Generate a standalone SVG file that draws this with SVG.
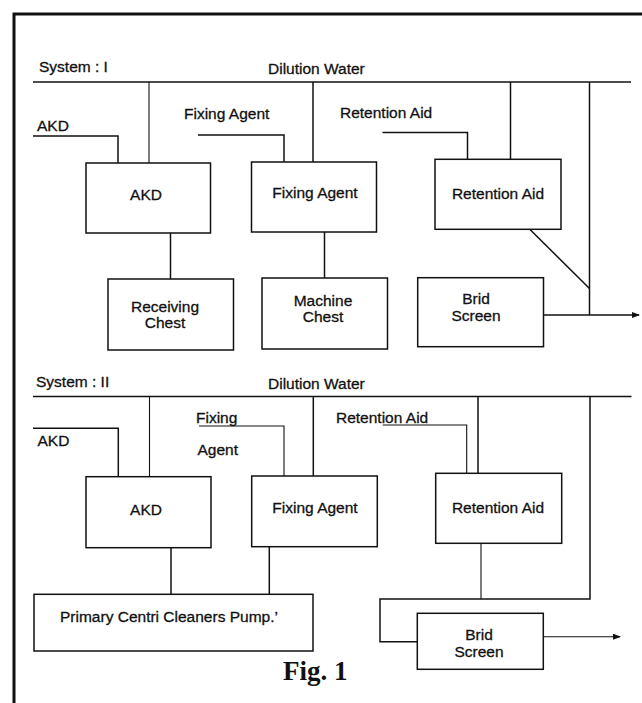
<svg xmlns="http://www.w3.org/2000/svg" width="642" height="703" viewBox="0 0 642 703">
<style>
.box{fill:#fff;stroke:#111;stroke-width:1.5}
.ln{fill:none;stroke:#111;stroke-width:1.5}
.thin{fill:none;stroke:#111;stroke-width:1.1}
text{font-family:"Liberation Sans",Arial,sans-serif;font-size:15.5px;fill:#111;stroke:#111;stroke-width:0.3}
.c{text-anchor:middle}
.fig{font-family:"Liberation Serif","Times New Roman",serif;font-size:27px;font-weight:bold;stroke:none}
</style>
<defs>
<marker id="arr" markerWidth="8" markerHeight="6" refX="7" refY="3" orient="auto" markerUnits="userSpaceOnUse">
<path d="M0,0 L8,3 L0,6 Z" fill="#111"/>
</marker>
</defs>
<rect width="642" height="703" fill="#fff"/>
<path d="M14,703 V14 H642" fill="none" stroke="#111" stroke-width="3"/>

<!-- System I -->
<text x="39" y="72">System : I</text>
<text x="268" y="74">Dilution Water</text>
<text x="37" y="131">AKD</text>
<text x="184" y="119">Fixing Agent</text>
<text x="340" y="118">Retention Aid</text>

<g id="connectors1">
<path class="ln" d="M33,82 H631"/>
<path class="thin" d="M149,82 V163"/>
<path class="ln" d="M313,82 V162"/>
<path class="ln" d="M510.5,82 V159"/>
<path class="ln" d="M589.5,82 V315"/>
<path class="ln" d="M33,136 H118 V163"/>
<path class="ln" d="M198,135 H284 V162"/>
<path class="ln" d="M382.5,132.5 H467.5 V159"/>
<path class="ln" d="M170.5,233 V279"/>
<path class="ln" d="M324.5,232 V278"/>
<path class="ln" d="M529.5,229 L589.5,288.5"/>
<path class="ln" d="M543.5,315 H639" marker-end="url(#arr)"/>
</g>

<g id="akd1"><rect class="box" x="86" y="163" width="124.5" height="70"/><text class="c" x="146" y="200">AKD</text></g>
<g id="fixing1"><rect class="box" x="251.5" y="162" width="125" height="70"/><text class="c" x="315" y="198">Fixing Agent</text></g>
<g id="retention1"><rect class="box" x="435" y="159.3" width="126" height="70"/><text class="c" x="498" y="199">Retention Aid</text></g>
<g id="receiving1"><rect class="box" x="108" y="279" width="125.5" height="71"/><text class="c" x="165" y="312">Receiving</text><text class="c" x="165" y="328">Chest</text></g>
<g id="machine1"><rect class="box" x="262" y="278" width="125.5" height="71"/><text class="c" x="323" y="306">Machine</text><text class="c" x="323" y="322">Chest</text></g>
<g id="brid1"><rect class="box" x="417.7" y="277.7" width="125.8" height="69"/><text class="c" x="476" y="304">Brid</text><text class="c" x="476" y="321">Screen</text></g>

<!-- System II -->
<text x="36" y="387">System : II</text>
<text x="268" y="389">Dilution Water</text>
<text x="37.5" y="446">AKD</text>
<text x="196" y="423">Fixing</text>
<text x="197.5" y="455">Agent</text>
<text x="336" y="423">Retention Aid</text>

<g id="connectors2">
<path class="ln" d="M33,396.5 H631.5"/>
<path class="thin" d="M149.5,396.5 V476.7"/>
<path class="ln" d="M313.3,396.5 V476"/>
<path class="ln" d="M478,396.5 V473.3"/>
<path class="ln" d="M590,396.5 V599 H380 V641.7 H417.3"/>
<path class="ln" d="M33,428.3 H118.3 V476.7"/>
<path class="thin" d="M199,426 H284 V476"/>
<path class="thin" d="M382.7,425 H466.7 V473.3"/>
<path class="ln" d="M171,547.7 V594.3"/>
<path class="ln" d="M269.3,546.7 V594.3"/>
<path class="thin" d="M481,543.3 V599"/>
<path class="thin" d="M543.3,636.7 H620" marker-end="url(#arr)"/>
</g>

<g id="akd2"><rect class="box" x="86" y="476.7" width="125" height="71"/><text class="c" x="146" y="515">AKD</text></g>
<g id="fixing2"><rect class="box" x="251.7" y="476" width="125.6" height="70.7"/><text class="c" x="315" y="513">Fixing Agent</text></g>
<g id="retention2"><rect class="box" x="435.7" y="473.3" width="126" height="70"/><text class="c" x="498" y="513">Retention Aid</text></g>
<g id="pump2"><rect class="box" x="34" y="594.3" width="279" height="56.7"/><text x="60" y="622">Primary Centri Cleaners Pump.’</text></g>
<g id="brid2"><rect class="box" x="417.3" y="613.3" width="126" height="56"/><text class="c" x="479" y="640">Brid</text><text class="c" x="479" y="657">Screen</text></g>

<text class="fig" x="283" y="680">Fig. 1</text>
</svg>
